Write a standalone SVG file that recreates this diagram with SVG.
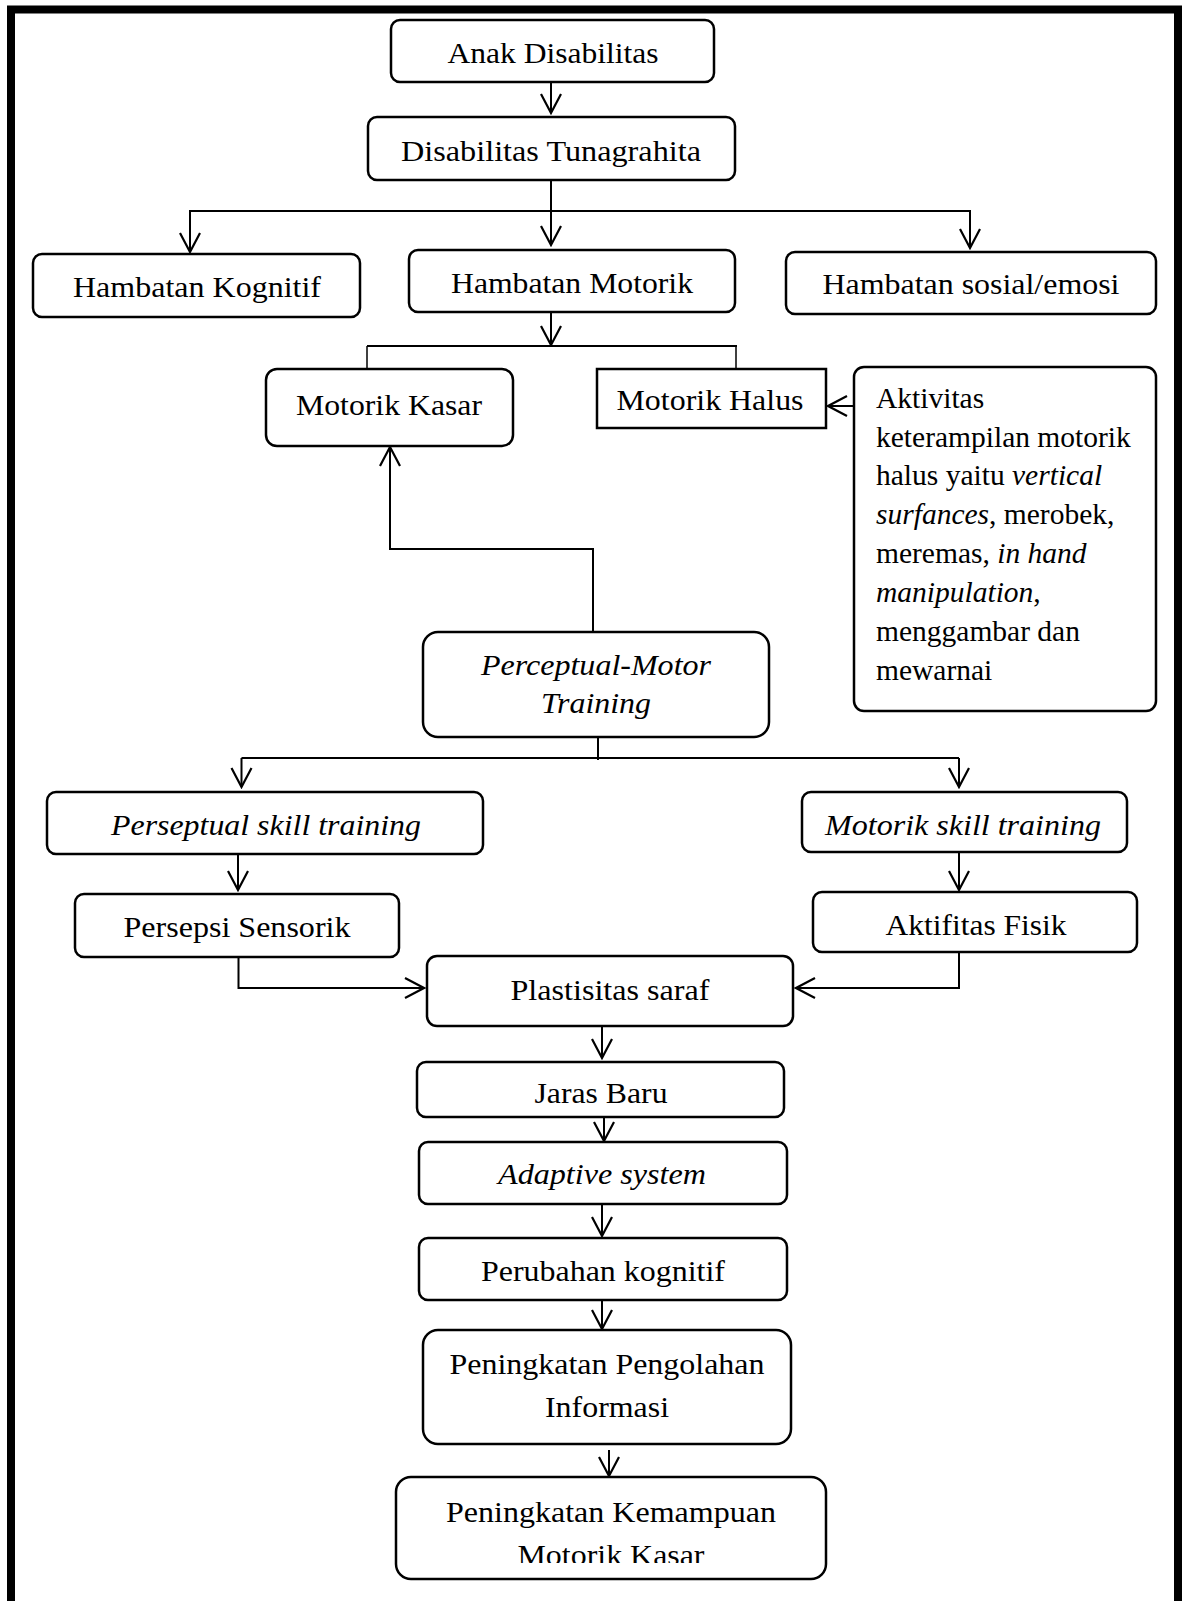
<svg xmlns="http://www.w3.org/2000/svg" width="1184" height="1601" viewBox="0 0 1184 1601">
<style>
.box{fill:#fff;stroke:#000;stroke-width:2.5}
.t{font-family:"Liberation Serif","Times New Roman",serif;font-size:30px;fill:#000;text-anchor:middle}
.ta{font-family:"Liberation Serif","Times New Roman",serif;font-size:29.5px;fill:#000}
.i{font-style:italic}
.c{fill:none;stroke:#000;stroke-width:2}
.thin{fill:none;stroke:#000;stroke-width:1.5}
</style>
<defs>
<marker id="arr" viewBox="0 0 24 24" refX="22" refY="12" markerWidth="24" markerHeight="24" markerUnits="userSpaceOnUse" orient="auto">
<path d="M3,2 L22,12 L3,22" fill="none" stroke="#000" stroke-width="2.2"/>
</marker>
<clipPath id="clipLast"><rect x="396" y="1477" width="430" height="86"/></clipPath>
</defs>
<rect x="0" y="0" width="1184" height="1601" fill="#fff"/>
<path d="M11,1601 V9.5 H1178 V1601" fill="none" stroke="#000" stroke-width="8"/>

<g id="connectors">
<line class="c" x1="551" y1="82" x2="551" y2="113" marker-end="url(#arr)"/>
<line class="c" x1="551" y1="180" x2="551" y2="245" marker-end="url(#arr)"/>
<polyline class="c" points="190,251 190,211 970,211 970,248" marker-end="url(#arr)"/>
<line class="c" x1="190" y1="211" x2="190" y2="252" marker-end="url(#arr)"/>
<line class="c" x1="551" y1="312" x2="551" y2="345" marker-end="url(#arr)"/>
<line class="c" x1="367" y1="346" x2="737" y2="346"/>
<line class="thin" x1="367" y1="346" x2="367" y2="368"/>
<line class="thin" x1="736" y1="346" x2="736" y2="368"/>
<line class="c" x1="853" y1="406" x2="828" y2="406" marker-end="url(#arr)"/>
<polyline class="c" points="593,632 593,549 390,549 390,447" marker-end="url(#arr)"/>
<line class="c" x1="598" y1="737" x2="598" y2="760"/>
<line class="c" x1="241.5" y1="758" x2="959" y2="758"/>
<line class="c" x1="241.5" y1="758" x2="241.5" y2="787" marker-end="url(#arr)"/>
<line class="c" x1="959" y1="758" x2="959" y2="787" marker-end="url(#arr)"/>
<line class="c" x1="238" y1="854" x2="238" y2="890" marker-end="url(#arr)"/>
<line class="c" x1="959" y1="852" x2="959" y2="890" marker-end="url(#arr)"/>
<polyline class="c" points="238.5,957 238.5,988 424,988" marker-end="url(#arr)"/>
<polyline class="c" points="959,953 959,988 796,988" marker-end="url(#arr)"/>
<line class="c" x1="602" y1="1026" x2="602" y2="1058" marker-end="url(#arr)"/>
<line class="c" x1="604" y1="1117" x2="604" y2="1141" marker-end="url(#arr)"/>
<line class="c" x1="602" y1="1204" x2="602" y2="1236" marker-end="url(#arr)"/>
<line class="c" x1="602" y1="1300" x2="602" y2="1329" marker-end="url(#arr)"/>
<line class="c" x1="609" y1="1450" x2="609" y2="1476" marker-end="url(#arr)"/>
</g>

<g id="n-anak"><rect class="box" x="391" y="20" width="323" height="62" rx="9"/><text class="t" x="553" y="63" textLength="211" lengthAdjust="spacingAndGlyphs">Anak Disabilitas</text></g>
<g id="n-tunagrahita"><rect class="box" x="368" y="117" width="367" height="63" rx="9"/><text class="t" x="551" y="161" textLength="300" lengthAdjust="spacingAndGlyphs">Disabilitas Tunagrahita</text></g>
<g id="n-kognitif"><rect class="box" x="33" y="254" width="327" height="63" rx="9"/><text class="t" x="197" y="297" textLength="248" lengthAdjust="spacingAndGlyphs">Hambatan Kognitif</text></g>
<g id="n-motorik"><rect class="box" x="409" y="250" width="326" height="62" rx="9"/><text class="t" x="572" y="293" textLength="242" lengthAdjust="spacingAndGlyphs">Hambatan Motorik</text></g>
<g id="n-sosial"><rect class="box" x="786" y="252" width="370" height="62" rx="9"/><text class="t" x="971" y="294" textLength="297" lengthAdjust="spacingAndGlyphs">Hambatan sosial/emosi</text></g>
<g id="n-kasar"><rect class="box" x="266" y="369" width="247" height="77" rx="11"/><text class="t" x="389" y="415" textLength="186" lengthAdjust="spacingAndGlyphs">Motorik Kasar</text></g>
<g id="n-halus"><rect class="box" x="597" y="369" width="229" height="59"/><text class="t" x="710" y="410" textLength="187" lengthAdjust="spacingAndGlyphs">Motorik Halus</text></g>
<g id="n-aktivitas"><rect class="box" x="854" y="367" width="302" height="344" rx="10"/>
<text class="ta" x="876" y="408">Aktivitas</text>
<text class="ta" x="876" y="447">keterampilan motorik</text>
<text class="ta" x="876" y="485">halus yaitu <tspan class="i">vertical</tspan></text>
<text class="ta" x="876" y="524"><tspan class="i">surfances</tspan>, merobek,</text>
<text class="ta" x="876" y="563">meremas, <tspan class="i">in hand</tspan></text>
<text class="ta" x="876" y="602"><tspan class="i">manipulation</tspan>,</text>
<text class="ta" x="876" y="641">menggambar dan</text>
<text class="ta" x="876" y="680">mewarnai</text>
</g>
<g id="n-pmt"><rect class="box" x="423" y="632" width="346" height="105" rx="15"/><text class="t i" x="596" y="675" textLength="230" lengthAdjust="spacingAndGlyphs">Perceptual-Motor</text><text class="t i" x="596" y="713" textLength="110" lengthAdjust="spacingAndGlyphs">Training</text></g>
<g id="n-pst"><rect class="box" x="47" y="792" width="436" height="62" rx="9"/><text class="t i" x="266" y="835" textLength="310" lengthAdjust="spacingAndGlyphs">Perseptual skill training</text></g>
<g id="n-mst"><rect class="box" x="802" y="792" width="325" height="60" rx="9"/><text class="t i" x="963" y="835" textLength="276" lengthAdjust="spacingAndGlyphs">Motorik skill training</text></g>
<g id="n-persepsi"><rect class="box" x="75" y="894" width="324" height="63" rx="9"/><text class="t" x="237" y="937" textLength="227" lengthAdjust="spacingAndGlyphs">Persepsi Sensorik</text></g>
<g id="n-fisik"><rect class="box" x="813" y="892" width="324" height="60" rx="9"/><text class="t" x="976" y="935" textLength="181" lengthAdjust="spacingAndGlyphs">Aktifitas Fisik</text></g>
<g id="n-plastisitas"><rect class="box" x="427" y="956" width="366" height="70" rx="10"/><text class="t" x="610" y="1000" textLength="199" lengthAdjust="spacingAndGlyphs">Plastisitas saraf</text></g>
<g id="n-jaras"><rect class="box" x="417" y="1062" width="367" height="55" rx="9"/><text class="t" x="601" y="1103" textLength="133" lengthAdjust="spacingAndGlyphs">Jaras Baru</text></g>
<g id="n-adaptive"><rect class="box" x="419" y="1142" width="368" height="62" rx="9"/><text class="t i" x="602" y="1184" textLength="208" lengthAdjust="spacingAndGlyphs">Adaptive system</text></g>
<g id="n-perubahan"><rect class="box" x="419" y="1238" width="368" height="62" rx="9"/><text class="t" x="603" y="1281" textLength="244" lengthAdjust="spacingAndGlyphs">Perubahan kognitif</text></g>
<g id="n-pengolahan"><rect class="box" x="423" y="1330" width="368" height="114" rx="15"/><text class="t" x="607" y="1374" textLength="315" lengthAdjust="spacingAndGlyphs">Peningkatan Pengolahan</text><text class="t" x="607" y="1417" textLength="124" lengthAdjust="spacingAndGlyphs">Informasi</text></g>
<g id="n-kemampuan"><rect class="box" x="396" y="1477" width="430" height="102" rx="15"/><text class="t" x="611" y="1522" textLength="330" lengthAdjust="spacingAndGlyphs">Peningkatan Kemampuan</text><text class="t" x="611" y="1565" textLength="187" lengthAdjust="spacingAndGlyphs" clip-path="url(#clipLast)">Motorik Kasar</text></g>
</svg>
